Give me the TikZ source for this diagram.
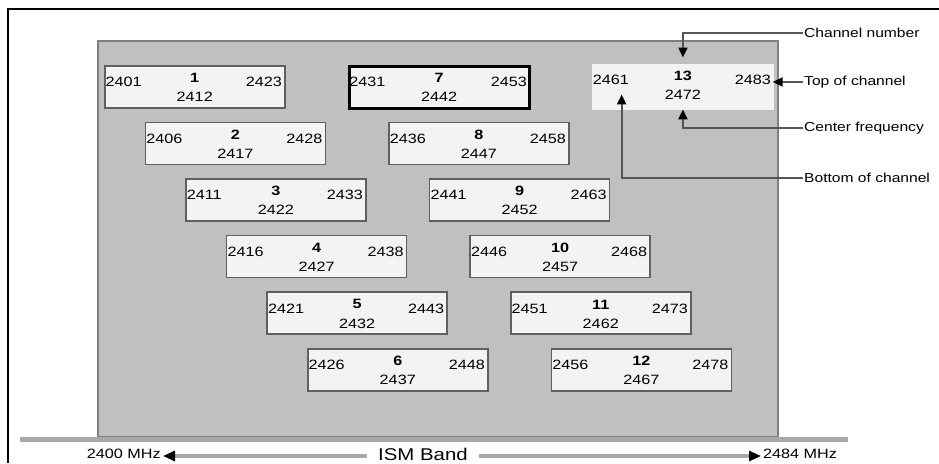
\documentclass[tikz,border=0pt]{standalone}
\usepackage{fontspec}
\setmainfont{Liberation Sans}[FakeStretch=1.2]
\usepackage{tikz}
\usetikzlibrary{positioning, arrows.meta}

\definecolor{panelfill}{HTML}{C0C0C0}
\definecolor{paneledge}{HTML}{808080}
\definecolor{boxfill}{HTML}{F3F3F3}
\definecolor{boxedge}{HTML}{606060}
\definecolor{linegray}{HTML}{555555}
\definecolor{bandgray}{HTML}{A8A8A8}

\tikzset{
	chanbox/.style={rectangle, draw=boxedge, line width=1.5pt, fill=boxfill, minimum width=180pt, minimum height=42pt, inner sep=0pt, anchor=north west},
	chanstyle7/.style={draw=black, line width=3pt},
	chanstyle13/.style={draw=none, minimum width=182pt, minimum height=46pt, yshift=2pt},
	lbl/.style={font=\fontsize{13.5}{14}\selectfont, inner sep=1.5pt},
	numlbl/.style={font=\fontsize{13.5}{14}\selectfont\bfseries, inner sep=1.5pt},
	note/.style={anchor=west, font=\fontsize{13}{14}\selectfont, inner sep=1pt},
	callout/.style={draw=linegray, line width=2pt, -{Triangle[length=10pt,width=9pt,color=black]}},
	bandarrow/.style={draw=bandgray, line width=3.5pt, -{Triangle[length=12pt,width=10pt,color=black]}},
	mhz/.style={font=\fontsize{13.5}{14}\selectfont, inner sep=2pt}
}

\begin{document}
\begin{tikzpicture}[x=1pt, y=-1pt]
	\useasboundingbox (0,0) rectangle (939,463);
	
	% frame, ISM panel and band line
	\draw[line width=2.5pt] (8,463) -- (8,9) -- (939,9);
	\draw[fill=panelfill, draw=paneledge, line width=2pt] (98,41) rectangle (778,437);
	\draw[draw=bandgray, line width=5pt] (20,439) -- (848,439);
	
	% channels
	\foreach \n/\r/\lo/\cf/\hi [evaluate=\n as \x using 104+40.6*(\n-1), evaluate=\r as \y using 65+56.6*\r] in
		{1/0/2401/2412/2423, 2/1/2406/2417/2428, 3/2/2411/2422/2433, 4/3/2416/2427/2438,
		 5/4/2421/2432/2443, 6/5/2426/2437/2448, 7/0/2431/2442/2453, 8/1/2436/2447/2458,
		 9/2/2441/2452/2463, 10/3/2446/2457/2468, 11/4/2451/2462/2473, 12/5/2456/2467/2478,
		 13/0/2461/2472/2483}{
		\node[chanbox, chanstyle\n/.try] (ch\n) at (\x,\y) {};
		\node[lbl, anchor=west] (ch\n-lo) at ([yshift=-17pt]ch\n.north west) {\lo};
		\node[lbl, anchor=east] (ch\n-hi) at ([yshift=-17pt, xshift=-2pt]ch\n.north east) {\hi};
		\node[numlbl] (ch\n-num) at ([yshift=-13pt]ch\n.north) {\n};
		\node[lbl] (ch\n-mid) at ([yshift=-32pt]ch\n.north) {\cf};
	}
	
	% callouts for channel 13
	\node[note] (num-note) at (803,33) {Channel number};
	\node[note] (top-note) at (803,82) {Top of channel};
	\node[note] (cf-note) at (803,128) {Center frequency};
	\node[note] (bot-note) at (803,178) {Bottom of channel};
	
	\coordinate[above=12pt of ch13-num] (num-tip);
	\coordinate[below=8pt of ch13-mid] (cf-tip);
	\coordinate[below right=8pt and -9pt of ch13-lo] (bot-tip);
	
	\draw[callout] (num-note.west) -| (num-tip);
	\draw[callout] (top-note.west) -- (top-note.west -| ch13-hi.east);
	\draw[callout] (cf-note.west) -| (cf-tip);
	\draw[callout] (bot-note.west) -| (bot-tip);
	
	% band labels
	\node[font=\fontsize{17}{18}\selectfont, inner xsep=11pt] (ism) at (423,454) {ISM Band};
	\node[mhz, anchor=east] (lo-mhz) at (163,454) {2400 MHz};
	\node[mhz, anchor=west] (hi-mhz) at (761,454) {2484 MHz};
	\draw[bandarrow] (ism.west |- 0,456) -- (lo-mhz.east |- 0,456);
	\draw[bandarrow] (ism.east |- 0,456) -- (hi-mhz.west |- 0,456);
	
\end{tikzpicture}
\end{document}
